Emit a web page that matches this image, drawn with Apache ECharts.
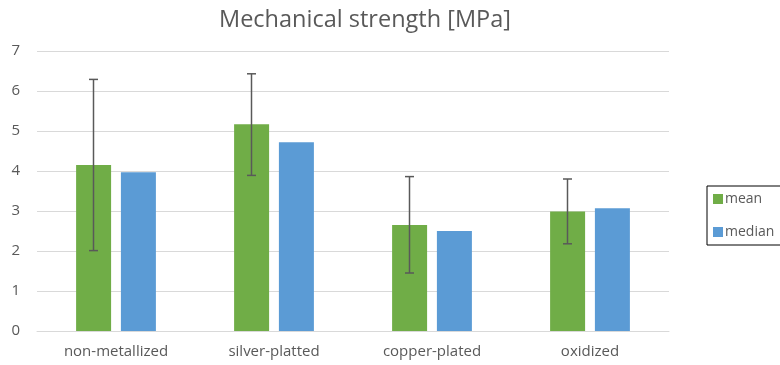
<!DOCTYPE html>
<html>
<head>
<meta charset="utf-8">
<script src="https://cdn.jsdelivr.net/npm/echarts@6/dist/echarts.min.js"></script>
<style>
  html, body { margin: 0; padding: 0; background: #fff; }
  #chart { width: 780px; height: 365px; }
</style>
</head>
<body>
<div id="chart"></div>
<script>
// 数据
const categories = ['non-metallized', 'silver-platted', 'copper-plated', 'oxidized'];
const meanValues = [4.15, 5.17, 2.65, 2.99];
const medianValues = [3.97, 4.72, 2.5, 3.07];
const errLow = [2.01, 3.89, 1.45, 2.18];
const errHigh = [6.29, 6.43, 3.86, 3.8];

const textColor = '#595959';
const fontFamily = '"Open Sans", "Liberation Sans", sans-serif';

const chart = echarts.init(document.getElementById('chart'));
chart.setOption({
  animation: false,
  textStyle: { fontFamily: fontFamily },
  title: {
    text: 'Mechanical strength [MPa]',
    left: 214,
    top: 3,
    textStyle: { color: textColor, fontSize: 23.5, fontWeight: 'normal', fontFamily: fontFamily },
  },
  legend: {
    orient: 'vertical',
    left: 707,
    top: 186,
    itemWidth: 10,
    itemHeight: 10,
    itemGap: 19,
    padding: [6, 30, 6, 6],
    borderColor: '#000',
    borderWidth: 1,
    icon: 'rect',
    textStyle: { color: textColor, fontSize: 14, padding: [0, 0, 0, -3] },
    data: ['mean', 'median'],
  },
  grid: {
    left: 37,
    width: 632,
    top: 51,
    bottom: 34,
    containLabel: false,
  },
  xAxis: {
    type: 'category',
    data: categories,
    axisLine: { lineStyle: { color: '#d9d9d9', width: 1 } },
    axisTick: { show: false },
    axisLabel: { color: textColor, fontSize: 15, margin: 13 },
  },
  yAxis: {
    type: 'value',
    min: 0,
    max: 7,
    interval: 1,
    axisLine: { show: false },
    axisTick: { show: false },
    axisLabel: { color: textColor, fontSize: 15, margin: 17 },
    splitLine: { lineStyle: { color: '#d9d9d9', width: 1 } },
  },
  series: [
    {
      name: 'mean',
      type: 'bar',
      barWidth: 35,
      barGap: '28%',
      itemStyle: { color: '#70ad47' },
      data: meanValues,
    },
    {
      name: 'median',
      type: 'bar',
      barWidth: 35,
      barGap: '28%',
      itemStyle: { color: '#5b9bd5' },
      data: medianValues,
    },
    {
      name: 'error',
      type: 'custom',
      z: 10,
      data: categories.map((c, i) => [i, errLow[i], errHigh[i]]),
      renderItem: function (params, api) {
        const idx = api.value(0);
        const lo = api.coord([idx, api.value(1)]);
        const hi = api.coord([idx, api.value(2)]);
        const x = lo[0] - 22.5;
        const cap = 4.5;
        const style = { stroke: '#595959', lineWidth: 1.5 };
        return {
          type: 'group',
          children: [
            { type: 'line', shape: { x1: x, y1: hi[1], x2: x, y2: lo[1] }, style: style },
            { type: 'line', shape: { x1: x - cap, y1: hi[1], x2: x + cap, y2: hi[1] }, style: style },
            { type: 'line', shape: { x1: x - cap, y1: lo[1], x2: x + cap, y2: lo[1] }, style: style },
          ],
        };
      },
    },
  ],
});
</script>
</body>
</html>
